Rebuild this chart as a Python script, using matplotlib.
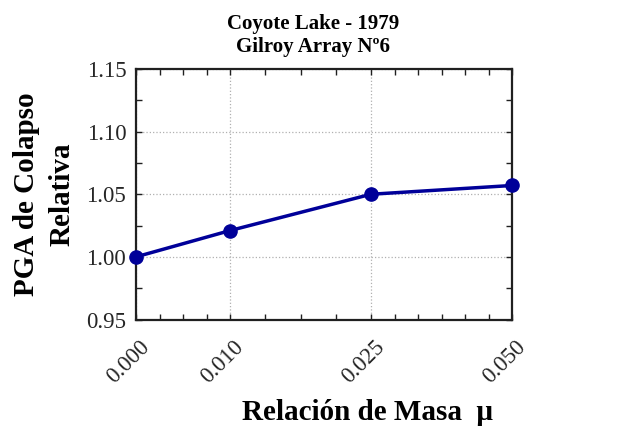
import numpy as np
import matplotlib
matplotlib.use('Agg')
import matplotlib.pyplot as plt
from matplotlib.transforms import ScaledTranslation

plt.rcParams['font.family'] = ['Liberation Serif', 'DejaVu Serif']

# data
mu = [0.000, 0.010, 0.025, 0.050]
pga_rel = [1.000, 1.021, 1.050, 1.057]
xtick_labels = ['0.000', '0.010', '0.025', '0.050']
yticks = [0.95, 1.00, 1.05, 1.10, 1.15]

# the x axis in the original is spaced piecewise (0, 1, 2.5, 4 units)
x_knots = [0.000, 0.010, 0.025, 0.050]
u_knots = [0.0, 1.0, 2.5, 4.0]


def fwd(x):
    return np.interp(x, x_knots, u_knots)


def inv(u):
    return np.interp(u, u_knots, x_knots)


minor_u = [0.25, 0.5, 0.75, 1.375, 1.75, 2.125, 2.75, 3.0, 3.25, 3.5, 3.75]

line_color = '#000099'

fig = plt.figure(figsize=(6.2, 4.26), dpi=100)
ax = fig.add_axes([136/620, 1 - 319.5/426, 376/620, 250.5/426])

ax.set_xscale('function', functions=(fwd, inv))
ax.plot(mu, pga_rel, '-o', color=line_color, lw=2.5, ms=9.5, clip_on=False, zorder=5)

ax.set_xlim(0, 0.05)
ax.set_ylim(0.95, 1.15)
ax.set_xticks(mu)
ax.set_xticklabels(xtick_labels)
ax.set_xticks(inv(np.array(minor_u)), minor=True)
ax.set_yticks(yticks)
ax.set_yticklabels([f'{v:.2f}' for v in yticks])
ax.set_yticks([0.975, 1.025, 1.075, 1.125], minor=True)

ax.grid(True, which='major', linestyle=':', color='#b0b0b0', lw=0.9)
for s in ax.spines.values():
    s.set_linewidth(1.6)
    s.set_color('#202020')

ax.tick_params(which='both', direction='in', top=True, right=True,
               length=4, width=1.0, color='#202020')
ax.tick_params(axis='y', labelsize=16.5, labelcolor='#262626', pad=7)
ax.tick_params(axis='x', labelsize=16.5, labelcolor='#262626', pad=12)

offset = ScaledTranslation(3/100, 0, fig.dpi_scale_trans)
for lbl in ax.get_xticklabels():
    lbl.set_rotation(45)
    lbl.set_ha('right')
    lbl.set_va('top')
    lbl.set_rotation_mode('anchor')
    lbl.set_transform(lbl.get_transform() + offset)

ax.set_title('Coyote Lake - 1979\nGilroy Array Nº6', fontsize=15, fontweight='bold',
             x=(313-136)/376, pad=12, linespacing=1.2)
ax.set_xlabel('Relación de Masa  μ', fontsize=21, fontweight='bold')
ax.xaxis.label.set_va('baseline')
ax.xaxis.set_label_coords((368-136)/376, -(420-319.5)/250.5)
ax.set_ylabel('PGA de Colapso\nRelativa', fontsize=21, fontweight='bold', linespacing=1.45)
ax.yaxis.set_label_coords(-(136-76)/376, 0.5)

fig.savefig('out.png', dpi=100)
